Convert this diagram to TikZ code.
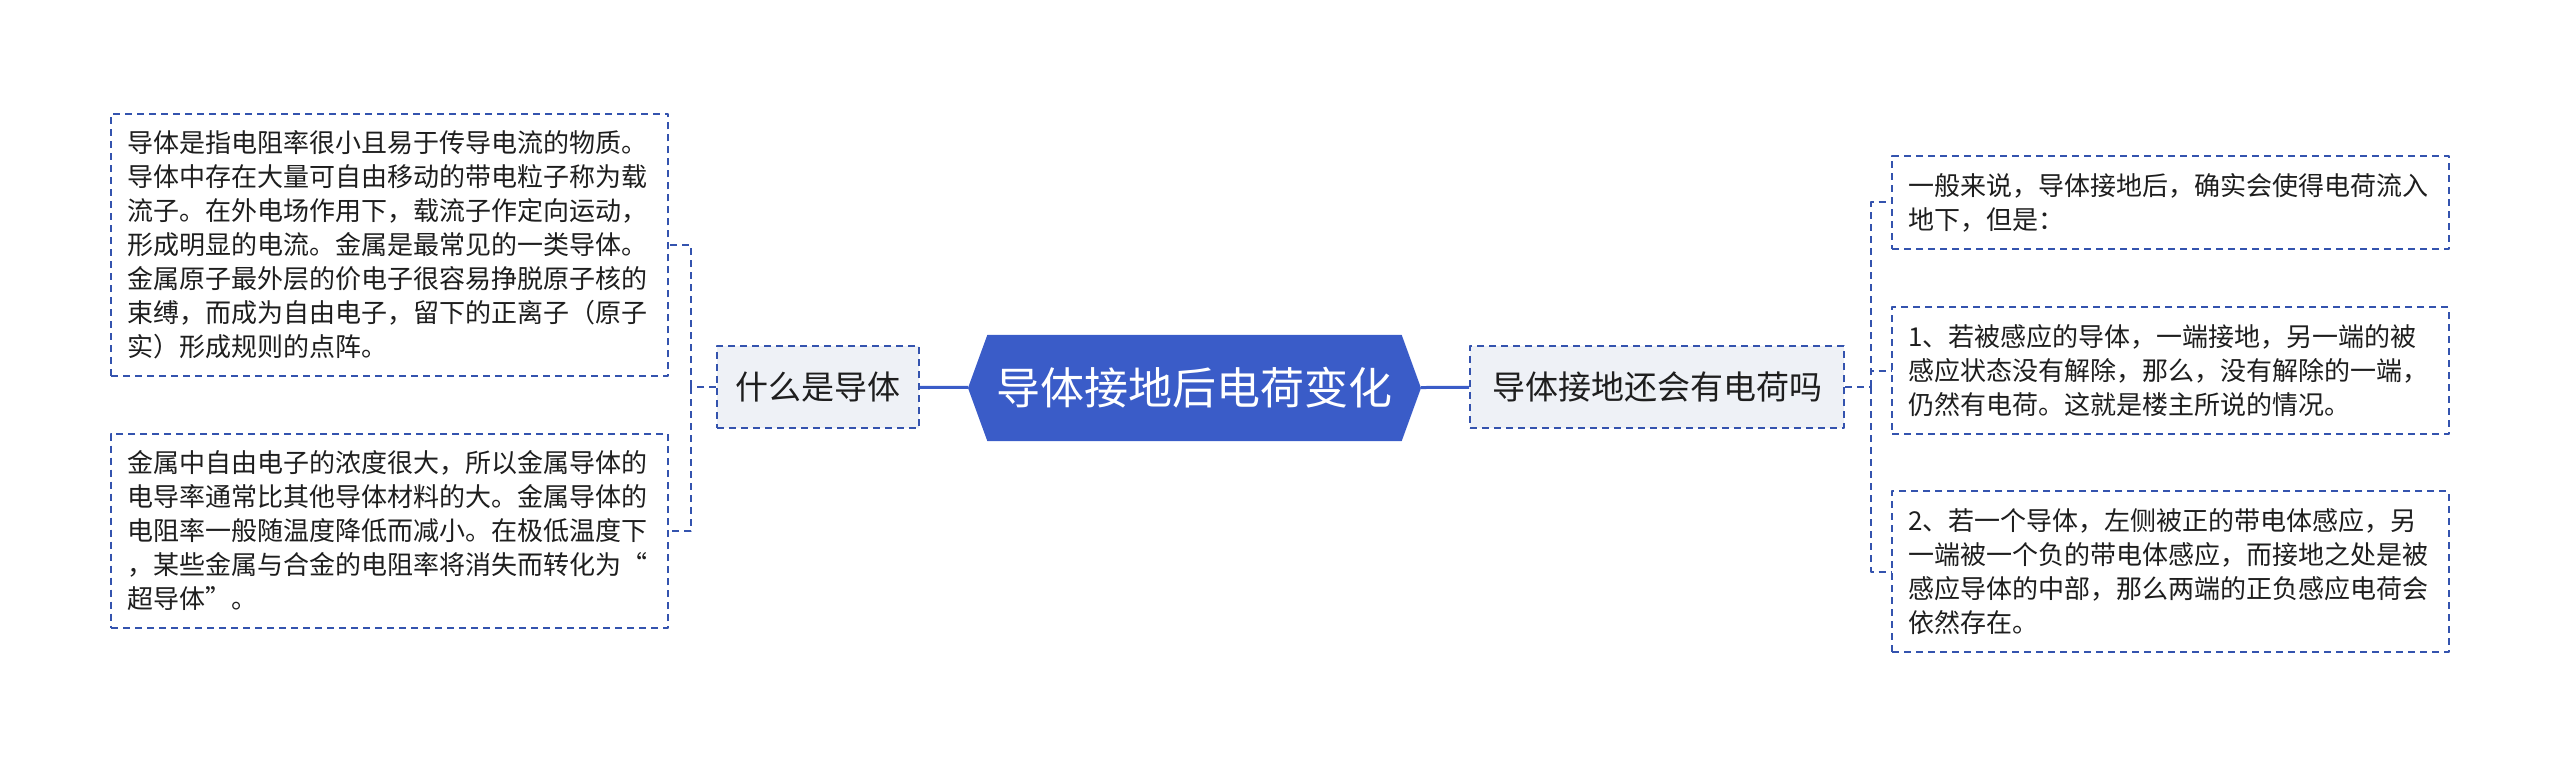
\documentclass[tikz,border=0pt]{standalone}
\usepackage{fontspec}
\setmainfont{Noto Sans CJK SC}
\usetikzlibrary{shapes.symbols}
\definecolor{rootblue}{HTML}{3A5CC8}
\definecolor{dashblue}{HTML}{3453AE}
\definecolor{subgray}{HTML}{EEF1F6}
\definecolor{inkgray}{HTML}{1E1E1E}
\tikzstyle{every picture}=[x=1pt, y=-1pt, line join=round]
\tikzstyle{root}=[signal, signal to=east and west, signal pointer angle=140,%
	fill=rootblue, text=white, font=\fontsize{44}{52}\selectfont,%
	minimum height=106pt, minimum width=453pt, inner sep=0pt]
\tikzstyle{dashline}=[draw=dashblue, line width=2pt, dash pattern=on 7pt off 5pt]
\tikzstyle{topic}=[dashline, fill=subgray, text=inkgray,%
	font=\fontsize{33}{40}\selectfont, minimum height=82pt, inner xsep=0pt]
\tikzstyle{leaf}=[dashline, fill=white, text=inkgray,%
	font=\fontsize{26}{34}\selectfont, align=left, text width=525pt,%
	inner xsep=16pt, inner ysep=17pt]
\tikzstyle{trunk}=[rootblue, line width=3pt]
\tikzstyle{twig}=[dashline]

\begin{document}
\begin{tikzpicture}
	\useasboundingbox (0,0) rectangle (2560,767);
	\node[root] (root) at (1194.5,388) {导体接地后电荷变化};
	\node[topic, minimum width=202pt] (what) at (818,387) {什么是导体};
	\node[topic, minimum width=374pt] (ask) at (1657,387) {导体接地还会有电荷吗};
	\node[leaf] (def) at (389.5,245) {导体是指电阻率很小且易于传导电流的物质。\\%
		导体中存在大量可自由移动的带电粒子称为载\\%
		流子。在外电场作用下，载流子作定向运动，\\%
		形成明显的电流。金属是最常见的一类导体。\\%
		金属原子最外层的价电子很容易挣脱原子核的\\%
		束缚，而成为自由电子，留下的正离子（原子\\%
		实）形成规则的点阵。};
	\node[leaf] (metal) at (389.5,531) {金属中自由电子的浓度很大，所以金属导体的\\%
		电导率通常比其他导体材料的大。金属导体的\\%
		电阻率一般随温度降低而减小。在极低温度下\\%
		，某些金属与合金的电阻率将消失而转化为“\\%
		超导体”。};
	\node[leaf] (intro) at (2170.5,202.5) {一般来说，导体接地后，确实会使得电荷流入\\%
		地下，但是：};
	\node[leaf] (case1) at (2170.5,370.5) {1、若被感应的导体，一端接地，另一端的被\\%
		感应状态没有解除，那么，没有解除的一端，\\%
		仍然有电荷。这就是楼主所说的情况。};
	\node[leaf] (case2) at (2170.5,571.5) {2、若一个导体，左侧被正的带电体感应，另\\%
		一端被一个负的带电体感应，而接地之处是被\\%
		感应导体的中部，那么两端的正负感应电荷会\\%
		依然存在。};
	\draw[trunk] (root) -- (what);
	\draw[trunk] (root) -- (ask);
	\draw[twig] (what.west) -- ++(-25,0) coordinate (lfork);
	\draw[twig] (lfork) |- (def);
	\draw[twig] (lfork) |- (metal);
	\draw[twig] (ask.east) -- ++(26,0) coordinate (rfork);
	\draw[twig] (rfork) |- (intro);
	\draw[twig] (rfork) |- (case1);
	\draw[twig] (rfork) |- (case2);
\end{tikzpicture}
\end{document}
